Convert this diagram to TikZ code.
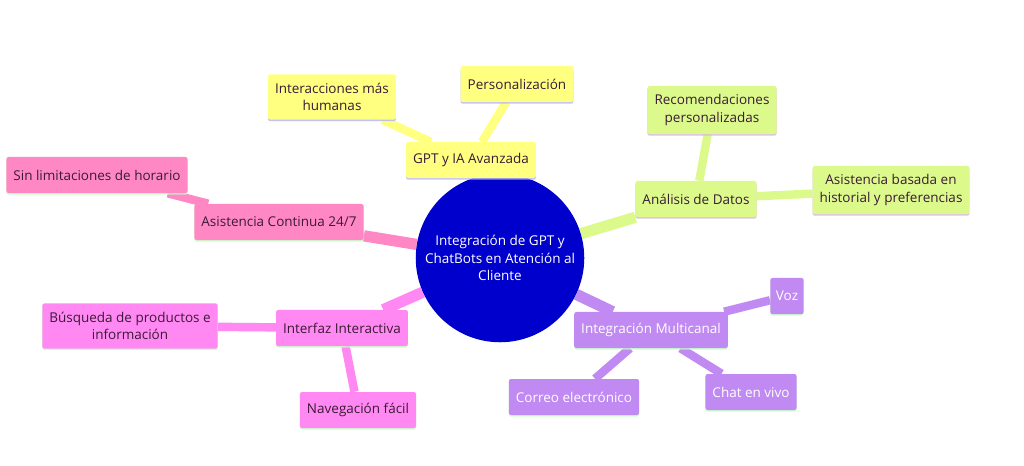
\documentclass[tikz,border=0pt]{standalone}
\usepackage{fontspec}
\setmainfont{Open Sans}
\usetikzlibrary{shadows,backgrounds}
\definecolor{yel}{HTML}{FFFF80}
\definecolor{grn}{HTML}{DCFA8C}
\definecolor{pnk}{HTML}{FF88C4}
\definecolor{mag}{HTML}{FF88F2}
\definecolor{pur}{HTML}{C08AF2}
\definecolor{hub}{HTML}{0000CC}
\definecolor{ink}{HTML}{3A1A36}

\begin{document}
\begin{tikzpicture}[x=0.025cm, y=-0.025cm, font=\fontsize{9.6}{12.6}\selectfont,
    box/.style = {rounded corners=1.5pt, inner xsep=5pt, inner ysep=6pt, minimum height=0.9cm, align=center, text=ink},
    ybox/.style = {box, fill=yel, drop shadow={shadow xshift=0pt, shadow yshift=-1.2pt, fill=blue!30, opacity=0.8}},
    gbox/.style = {box, fill=grn, drop shadow={shadow xshift=0pt, shadow yshift=-1.2pt, fill=violet!30, opacity=0.8}},
    pbox/.style = {box, fill=pnk, drop shadow={shadow xshift=0pt, shadow yshift=-1.2pt, fill=green!25, opacity=0.8}},
    mbox/.style = {box, fill=mag, drop shadow={shadow xshift=0pt, shadow yshift=-1.2pt, fill=green!25, opacity=0.8}},
    ubox/.style = {box, fill=pur, text=white, drop shadow={shadow xshift=0pt, shadow yshift=-1.2pt, fill=green!25, opacity=0.8}},
    link/.style = {line width=6pt},
    mainlink/.style = {line width=8pt}]
    \useasboundingbox (0,0) rectangle (1024,466);
    % centre
    \node[circle, fill=hub, text=white, minimum size=4.15cm, align=center] (hub) at (500,258) {Integración de GPT y\\ChatBots en Atención al\\Cliente};
    % branches
    \node[ybox] (gpt) at (471,160) {GPT y IA Avanzada};
    \node[ybox] (humanas) at (332,97) {Interacciones más\\humanas};
    \node[ybox] (perso) at (517,84) {Personalización};
    \node[gbox] (datos) at (696,199) {Análisis de Datos};
    \node[gbox] (recom) at (712,110) {Recomendaciones\\personalizadas};
    \node[gbox] (historial) at (891,190) {Asistencia basada en\\historial y preferencias};
    \node[pbox] (continua) at (279,222) {Asistencia Continua 24/7};
    \node[pbox] (horario) at (97,175) {Sin limitaciones de horario};
    \node[mbox] (interfaz) at (342,328) {Interfaz Interactiva};
    \node[mbox] (busqueda) at (130,326) {Búsqueda de productos e\\información};
    \node[mbox] (naveg) at (358,410) {Navegación fácil};
    \node[ubox] (multi) at (651,330) {Integración Multicanal};
    \node[ubox, inner xsep=4pt] (voz) at (787,296) {Voz};
    \node[ubox] (correo) at (574,397) {Correo electrónico};
    \node[ubox] (chat) at (751,392) {Chat en vivo};
    % connectors
    \begin{scope}[on background layer]
    \draw[mainlink, yel] (hub) -- (gpt);
    \draw[link, yel] (gpt) -- (humanas) (gpt) -- (perso);
    \draw[mainlink, grn] (hub) -- (datos);
    \draw[link, grn] (datos) -- (recom) (datos) -- (historial);
    \draw[mainlink, pnk] (hub) -- (continua);
    \draw[link, pnk] (continua) -- (horario);
    \draw[mainlink, mag] (hub) -- (interfaz);
    \draw[link, mag] (interfaz) -- (busqueda) (interfaz) -- (naveg);
    \draw[mainlink, pur] (hub) -- (multi);
    \draw[link, pur] (multi) -- (voz) (multi) -- (correo) (multi) -- (chat);
    \end{scope}
\end{tikzpicture}
\end{document}
